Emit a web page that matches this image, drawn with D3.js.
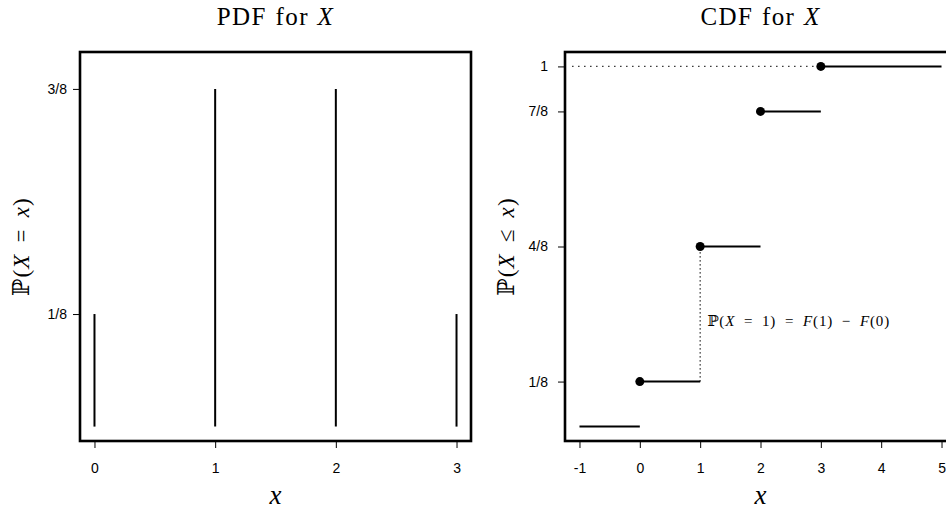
<html lang="en">
<head>
    <meta charset="utf-8">
    <title>PDF and CDF for X</title>
    <style>
        body { margin: 0; background: #fff; }
        svg { display: block; }
        .tick text { font-family: "Liberation Sans", Arial, sans-serif; font-size: 14px; fill: #000; }
        .tick line { stroke: #000; stroke-width: 1; }
        .serif { font-family: "Liberation Serif", "DejaVu Serif", serif; fill: #000; }
    </style>
</head>
<body>
<div id="chart"></div>

<script type="text/javascript" src="https://cdnjs.cloudflare.com/ajax/libs/d3/7.8.5/d3.min.js"></script>
<script type="text/javascript">

    // PDF values
    var pdfX = [0, 1, 2, 3];
    var pdfP = [1/8, 3/8, 3/8, 1/8];
    var pdfYTicks = [1/8, 3/8];
    var pdfYLabels = ["1/8", "3/8"];
    var pdfXTicks = [0, 1, 2, 3];

    // CDF steps: [start, end) at value
    var cdfStart = [-1, 0, 1, 2, 3];
    var cdfEnd = [0, 1, 2, 3, 5];
    var cdfValue = [0, 1/8, 4/8, 7/8, 1];
    var cdfDot = [false, true, true, true, true];
    var cdfYTicks = [1/8, 4/8, 7/8, 1];
    var cdfYLabels = ["1/8", "4/8", "7/8", "1"];
    var cdfXTicks = [-1, 0, 1, 2, 3, 4, 5];

    // dotted guides
    var guideH = [-1.12, 3, 1];       // x0, x1, y
    var guideV = [1, 1/8, 4/8];       // x, y0, y1

    var svg = d3.select("#chart").append("svg")
        .attr("width", 946)
        .attr("height", 511);

    // R style 4% padding on limits
    function pad(lo, hi) {
        var e = (hi - lo) * 0.04;
        return [lo - e, hi + e];
    }

    // plain hyphen for negatives, like R
    function plain(d) { return String(d); }

    var box = {top: 52, bottom: 441, width: 391};

    // ---------- left panel: PDF ----------
    var xL = d3.scaleLinear().domain(pad(0, 3)).range([80, 80 + box.width]);
    var yL = d3.scaleLinear().domain(pad(0, 0.4)).range([box.bottom, box.top]);

    svg.append("g")
        .attr("transform", "translate(0," + box.bottom + ")")
        .call(d3.axisBottom(xL).tickValues(pdfXTicks).tickFormat(plain).tickSize(7).tickPadding(15))
        .call(function(g) { g.select(".domain").remove(); });

    svg.append("g")
        .attr("transform", "translate(80,0)")
        .call(d3.axisLeft(yL).tickValues(pdfYTicks)
            .tickFormat(function(d, i) { return pdfYLabels[i]; })
            .tickSize(7).tickPadding(6))
        .call(function(g) { g.select(".domain").remove(); });

    svg.append("g").selectAll("line")
        .data(pdfX)
        .enter().append("line")
        .attr("x1", function(d) { return xL(d); })
        .attr("x2", function(d) { return xL(d); })
        .attr("y1", yL(0))
        .attr("y2", function(d, i) { return yL(pdfP[i]); })
        .attr("stroke", "#000")
        .attr("stroke-width", 2);

    svg.append("rect")
        .attr("x", xL.range()[0]).attr("y", box.top)
        .attr("width", box.width).attr("height", box.bottom - box.top)
        .attr("fill", "none").attr("stroke", "#000").attr("stroke-width", 2.6);

    // ---------- right panel: CDF ----------
    var xR = d3.scaleLinear().domain(pad(-1, 5)).range([565, 565 + box.width]);
    var yR = d3.scaleLinear().domain(pad(0, 1)).range([box.bottom, box.top]);

    svg.append("g")
        .attr("transform", "translate(0," + box.bottom + ")")
        .call(d3.axisBottom(xR).tickValues(cdfXTicks).tickFormat(plain).tickSize(7).tickPadding(15))
        .call(function(g) { g.select(".domain").remove(); });

    svg.append("g")
        .attr("transform", "translate(565,0)")
        .call(d3.axisLeft(yR).tickValues(cdfYTicks)
            .tickFormat(function(d, i) { return cdfYLabels[i]; })
            .tickSize(7).tickPadding(10))
        .call(function(g) { g.select(".domain").remove(); });

    // dotted guides
    svg.append("line")
        .attr("x1", xR(guideH[0])).attr("x2", xR(guideH[1]))
        .attr("y1", yR(guideH[2])).attr("y2", yR(guideH[2]))
        .attr("stroke", "#000").attr("stroke-width", 1.2)
        .attr("stroke-dasharray", "1.2,4.8");

    svg.append("line")
        .attr("x1", xR(guideV[0])).attr("x2", xR(guideV[0]))
        .attr("y1", yR(guideV[1])).attr("y2", yR(guideV[2]))
        .attr("stroke", "#000").attr("stroke-width", 1.2)
        .attr("stroke-dasharray", "1.2,2.8");

    var steps = svg.append("g");
    steps.selectAll("line")
        .data(cdfValue)
        .enter().append("line")
        .attr("x1", function(d, i) { return xR(cdfStart[i]); })
        .attr("x2", function(d, i) { return xR(cdfEnd[i]); })
        .attr("y1", function(d) { return yR(d); })
        .attr("y2", function(d) { return yR(d); })
        .attr("stroke", "#000")
        .attr("stroke-width", 2);

    steps.selectAll("circle")
        .data(cdfValue.filter(function(d, i) { return cdfDot[i]; }))
        .enter().append("circle")
        .attr("cx", function(d) { return xR(cdfStart[cdfValue.indexOf(d)]); })
        .attr("cy", function(d) { return yR(d); })
        .attr("r", 4.5)
        .attr("fill", "#000");

    svg.append("rect")
        .attr("x", xR.range()[0]).attr("y", box.top)
        .attr("width", box.width).attr("height", box.bottom - box.top)
        .attr("fill", "none").attr("stroke", "#000").attr("stroke-width", 2.6);

    // annotation
    var ann = svg.append("text")
        .attr("class", "serif")
        .attr("x", xR(guideV[0]) + 7)
        .attr("y", 326)
        .attr("font-size", 15)
        .attr("letter-spacing", 0.9)
        .attr("word-spacing", 4);
    ann.append("tspan").text("\u2119(");
    ann.append("tspan").attr("font-style", "italic").text("X");
    ann.append("tspan").text(" = 1) = ");
    ann.append("tspan").attr("font-style", "italic").text("F");
    ann.append("tspan").text("(1) \u2212 ");
    ann.append("tspan").attr("font-style", "italic").text("F");
    ann.append("tspan").text("(0)");

    // ---------- titles and axis labels ----------
    function title(cx, label) {
        var t = svg.append("text")
            .attr("class", "serif")
            .attr("x", cx).attr("y", 25)
            .attr("text-anchor", "middle")
            .attr("font-size", 25)
            .attr("letter-spacing", 1.4)
            .attr("word-spacing", 1);
        t.append("tspan").text(label + " ");
        t.append("tspan").attr("font-style", "italic").text("X");
    }
    title(80 + box.width / 2, "PDF for");
    title(565 + box.width / 2, "CDF for");

    function xLabel(cx) {
        svg.append("text")
            .attr("class", "serif")
            .attr("x", cx).attr("y", 504)
            .attr("text-anchor", "middle")
            .attr("font-size", 27)
            .attr("font-style", "italic")
            .text("x");
    }
    xLabel(80 + box.width / 2);
    xLabel(565 + box.width / 2);

    function yLabel(bx, rel) {
        var t = svg.append("text")
            .attr("class", "serif")
            .attr("transform", "translate(" + bx + "," + (box.top + box.bottom) / 2 + ") rotate(-90)")
            .attr("text-anchor", "middle")
            .attr("font-size", 23)
            .attr("letter-spacing", 1.2)
            .attr("word-spacing", 4);
        t.append("tspan").text("\u2119(");
        t.append("tspan").attr("font-style", "italic").text("X");
        t.append("tspan").text(" " + rel + " ");
        t.append("tspan").attr("font-style", "italic").text("x");
        t.append("tspan").text(")");
    }
    yLabel(29, "=");
    yLabel(514, "\u2264");

</script>
</body>
</html>
